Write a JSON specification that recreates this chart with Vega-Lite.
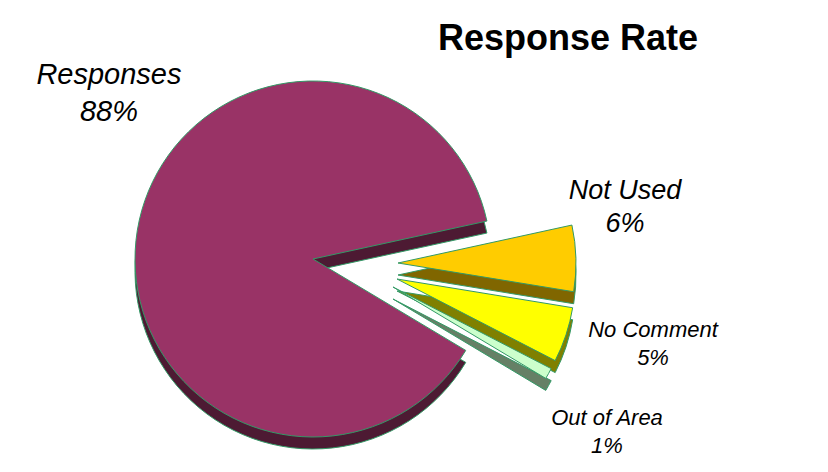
{
  "$schema": "https://vega.github.io/schema/vega-lite/v6.json",
  "width": 626,
  "height": 400,
  "autosize": "none",
  "padding": {"left": 0, "top": 59, "right": 202, "bottom": 13},
  "background": "white",
  "view": {"stroke": null},
  "title": {"text": "Response Rate", "font": "Liberation Sans", "fontSize": 36, "fontWeight": "bold", "color": "#000000", "anchor": "middle", "dx": 255, "dy": 36, "baseline": "alphabetic", "offset": 9},
  "data": {"values": [
    {"order": 1, "category": "Not Used", "value": 6},
    {"order": 2, "category": "No Comment", "value": 5},
    {"order": 3, "category": "Out of Area", "value": 1},
    {"order": 4, "category": "Responses", "value": 88}
  ]},
  "transform": [
    {"stack": "value", "groupby": [], "sort": [{"field": "order", "order": "ascending"}], "as": ["v0", "v1"]},
    {"calculate": "[datum.category, datum.value + '%']", "as": "label"}
  ],
  "encoding": {
    "theta": {"field": "v0", "type": "quantitative", "scale": {"domain": [0, 100], "range": [1.356, 7.6392]}},
    "theta2": {"field": "v1"}
  },
  "layer": [
    {"transform": [{"filter": "datum.category === 'Responses'"}], "mark": {"type": "arc", "radius": 178, "yOffset": 12, "fill": "#4D1A33", "stroke": "#339966", "strokeWidth": 1}},
    {"transform": [{"filter": "datum.category === 'Responses'"}], "mark": {"type": "arc", "radius": 178, "fill": "#993366", "stroke": "#339966", "strokeWidth": 1}},
    {"transform": [{"filter": "datum.category === 'Not Used'"}], "mark": {"type": "arc", "radius": 178, "xOffset": 85, "yOffset": 16, "fill": "#806600", "stroke": "#339966", "strokeWidth": 1}},
    {"transform": [{"filter": "datum.category === 'Not Used'"}], "mark": {"type": "arc", "radius": 178, "xOffset": 85, "yOffset": 4, "fill": "#FFCC00", "stroke": "#339966", "strokeWidth": 1}},
    {"transform": [{"filter": "datum.category === 'No Comment'"}], "mark": {"type": "arc", "radius": 178, "xOffset": 84, "yOffset": 32, "fill": "#808000", "stroke": "#339966", "strokeWidth": 1}},
    {"transform": [{"filter": "datum.category === 'No Comment'"}], "mark": {"type": "arc", "radius": 178, "xOffset": 84, "yOffset": 20, "fill": "#FFFF00", "stroke": "#339966", "strokeWidth": 1}},
    {"transform": [{"filter": "datum.category === 'Out of Area'"}], "mark": {"type": "arc", "radius": 178, "xOffset": 80, "yOffset": 40, "fill": "#668066", "stroke": "#339966", "strokeWidth": 1}},
    {"transform": [{"filter": "datum.category === 'Out of Area'"}], "mark": {"type": "arc", "radius": 178, "xOffset": 80, "yOffset": 28, "fill": "#CCFFCC", "stroke": "#339966", "strokeWidth": 1}},
    {"transform": [{"filter": "datum.category === 'Responses'"}], "encoding": {"theta": null, "theta2": null, "text": {"field": "label"}}, "mark": {"type": "text", "theta": 5.445, "radius": 274.5, "font": "Liberation Sans", "fontStyle": "italic", "fontSize": 29, "lineHeight": 37, "align": "center", "baseline": "middle", "color": "#000000"}},
    {"transform": [{"filter": "datum.category === 'Not Used'"}], "encoding": {"theta": null, "theta2": null, "text": {"field": "label"}}, "mark": {"type": "text", "theta": 1.3565, "radius": 319.3, "font": "Liberation Sans", "fontStyle": "italic", "fontSize": 27, "lineHeight": 33, "align": "center", "baseline": "middle", "color": "#000000"}},
    {"transform": [{"filter": "datum.category === 'No Comment'"}], "encoding": {"theta": null, "theta2": null, "text": {"field": "label"}}, "mark": {"type": "text", "theta": 1.7758, "radius": 347.3, "font": "Liberation Sans", "fontStyle": "italic", "fontSize": 22, "lineHeight": 28, "align": "center", "baseline": "middle", "color": "#000000"}},
    {"transform": [{"filter": "datum.category === 'Out of Area'"}], "encoding": {"theta": null, "theta2": null, "text": {"field": "label"}}, "mark": {"type": "text", "theta": 2.0657, "radius": 334.1, "font": "Liberation Sans", "fontStyle": "italic", "fontSize": 22, "lineHeight": 28, "align": "center", "baseline": "middle", "color": "#000000"}}
  ]
}
